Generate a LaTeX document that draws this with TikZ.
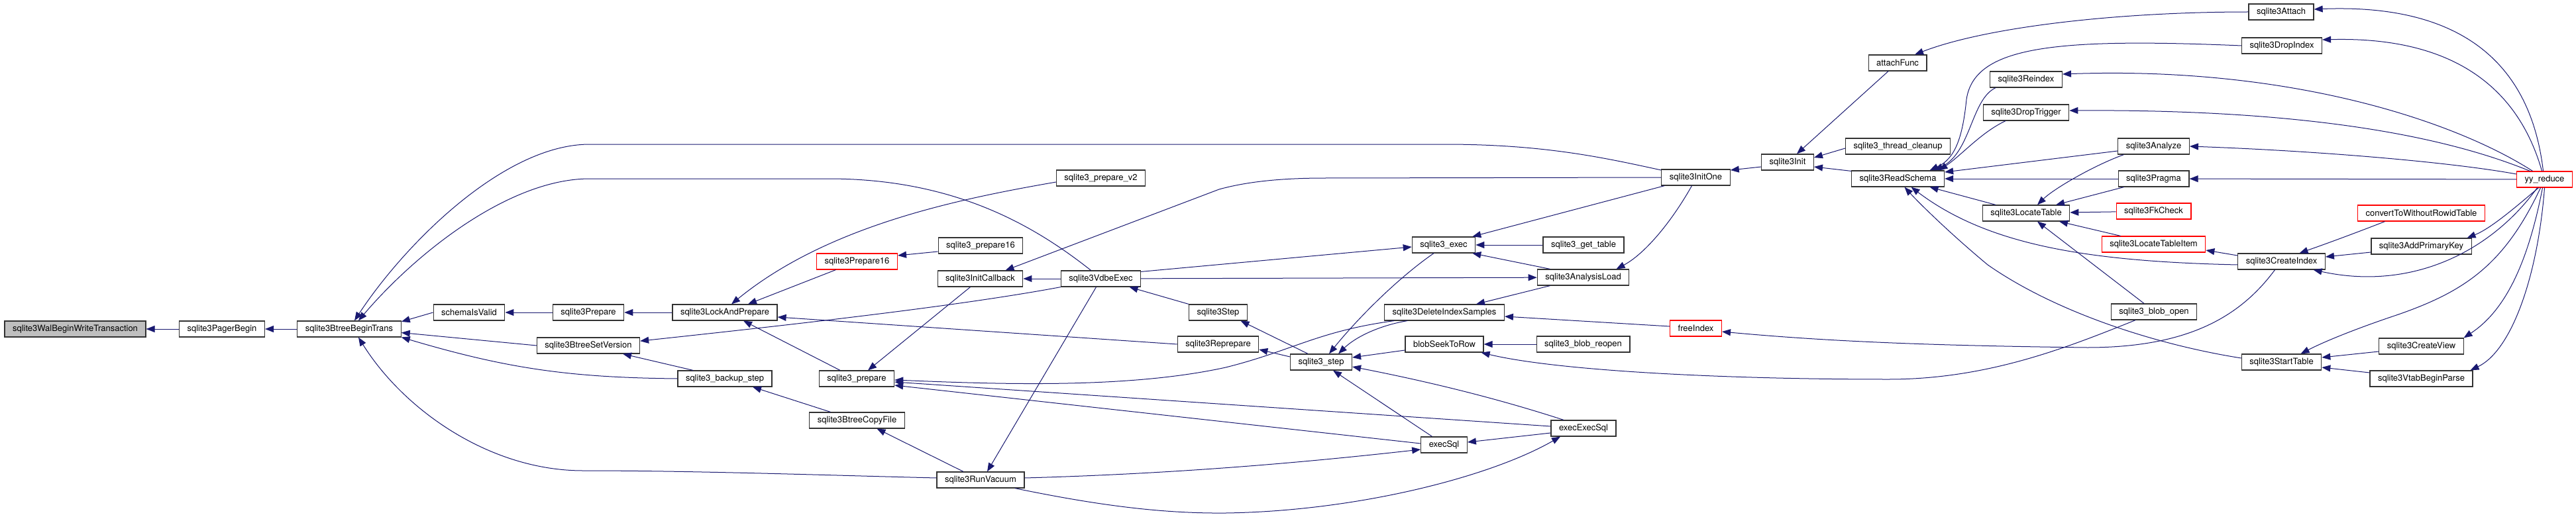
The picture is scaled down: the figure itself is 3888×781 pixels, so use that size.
\documentclass[tikz,border=0pt]{standalone}
\usepackage{fontspec}
\setmainfont{TeX Gyre Heros}
\usepackage{xcolor}
\usepackage{tikz}
\usetikzlibrary{arrows.meta}
\definecolor{edgeblue}{RGB}{25,25,112}
\definecolor{focusgray}{RGB}{191,191,191}
\definecolor{boxline}{RGB}{50,50,50}
\definecolor{truncred}{RGB}{255,0,0}
\newcommand{\fnfont}{\fontsize{13pt}{15pt}\selectfont}

\begin{document}
\begin{tikzpicture}[
    x=1pt, y=1pt,
    >={Triangle[length=13pt,width=10pt]},
    fn/.style={draw=boxline, fill=white, line width=1.2pt, font=\fnfont,
               inner xsep=12pt, inner ysep=0pt, minimum height=24pt},
    fn trunc/.style={fn, draw=truncred},
    call/.style={->, draw=edgeblue, line width=1pt},
]
    \useasboundingbox (0,0) rectangle (3888,-781);

    % Focus function and its direct chain
    \node[fn, fill=focusgray] (walbegin) at (113.5,-497) {sqlite3WalBeginWriteTransaction};
    \node[fn] (pagerbegin) at (335,-497) {sqlite3PagerBegin};
    \node[fn] (btreebegin) at (527,-497) {sqlite3BtreeBeginTrans};

    % Prepare side
    \node[fn] (schemavalid) at (708,-472) {schemaIsValid};
    \node[fn] (prepareint) at (888,-472) {sqlite3Prepare};
    \node[fn] (lockprep) at (1094,-472) {sqlite3LockAndPrepare};
    \node[fn] (setversion) at (888,-522) {sqlite3BtreeSetVersion};
    \node[fn] (backupstep) at (1094,-572) {sqlite3\_backup\_step};
    \node[fn trunc] (prepareutf) at (1293.5,-395) {sqlite3Prepare16};
    \node[fn] (prepareapi16) at (1480,-371) {sqlite3\_prepare16};
    \node[fn] (preparevtwo) at (1661.5,-269) {sqlite3\_prepare\_v2};
    \node[fn] (initcallback) at (1479.5,-421) {sqlite3InitCallback};
    \node[fn] (vdbeexec) at (1661.5,-421) {sqlite3VdbeExec};
    \node[fn] (prepareapi) at (1293,-572) {sqlite3\_prepare};
    \node[fn] (copyfile) at (1293.5,-635) {sqlite3BtreeCopyFile};
    \node[fn] (runvacuum) at (1480,-725) {sqlite3RunVacuum};

    % Step / exec
    \node[fn] (stepint) at (1838.5,-472) {sqlite3Step};
    \node[fn] (reprepare) at (1838.5,-520) {sqlite3Reprepare};
    \node[fn] (exec) at (2179,-370) {sqlite3\_exec};
    \node[fn] (gettable) at (2390,-370) {sqlite3\_get\_table};
    \node[fn] (analysisload) at (2389.5,-419) {sqlite3AnalysisLoad};
    \node[fn] (deleteidx) at (2180,-472) {sqlite3DeleteIndexSamples};
    \node[fn] (blobseek) at (2180,-520) {blobSeekToRow};
    \node[fn] (blobreopen) at (2389.5,-520) {sqlite3\_blob\_reopen};
    \node[fn] (stepapi) at (1994,-547) {sqlite3\_step};
    \node[fn] (execexecsql) at (2390,-647) {execExecSql};
    \node[fn] (execsql) at (2179.5,-672) {execSql};

    % Init / schema
    \node[fn] (initone) at (2559.5,-268) {sqlite3InitOne};
    \node[fn] (init) at (2698,-245) {sqlite3Init};
    \node[fn] (attachfunc) at (2864,-95) {attachFunc};
    \node[fn] (threadcleanup) at (2864.5,-221) {sqlite3\_thread\_cleanup};
    \node[fn] (readschema) at (2864.5,-270) {sqlite3ReadSchema};
    \node[fn trunc] (freeindex) at (2559.5,-496) {freeIndex};
    \node[fn] (reindex) at (3058,-120) {sqlite3Reindex};
    \node[fn] (droptrigger) at (3058,-170) {sqlite3DropTrigger};
    \node[fn] (locatetable) at (3058,-322) {sqlite3LocateTable};

    % Parser actions
    \node[fn] (attach) at (3443,-18) {sqlite3Attach};
    \node[fn] (dropindex) at (3444,-69) {sqlite3DropIndex};
    \node[fn] (analyze) at (3250.5,-221) {sqlite3Analyze};
    \node[fn] (pragma) at (3250.5,-270) {sqlite3Pragma};
    \node[fn trunc] (fkcheck) at (3250.5,-319) {sqlite3FkCheck};
    \node[fn trunc] (locateitem) at (3250.5,-369) {sqlite3LocateTableItem};
    \node[fn] (blobopen) at (3251,-471) {sqlite3\_blob\_open};
    \node[fn] (createindex) at (3443.5,-395) {sqlite3CreateIndex};
    \node[fn] (starttable) at (3443.5,-547) {sqlite3StartTable};
    \node[fn trunc] (convert) at (3654.5,-322) {convertToWithoutRowidTable};
    \node[fn] (addpk) at (3654.5,-372) {sqlite3AddPrimaryKey};
    \node[fn] (createview) at (3654.5,-523) {sqlite3CreateView};
    \node[fn] (vtabbegin) at (3654.5,-572) {sqlite3VtabBeginParse};
    \node[fn trunc] (yyreduce) at (3840.5,-271) {yy\_reduce};

    % Calls into the btree / pager chain
    \draw[call] (pagerbegin) -- (walbegin);
    \draw[call] (btreebegin) -- (pagerbegin);
    \draw[call] (schemavalid.west) -- (btreebegin.8);
    \draw[call] (setversion.west) -- (btreebegin.-4);
    \draw[call] (backupstep.west) to[bend left=8] (btreebegin.-9);
    \draw[call] ([yshift=11pt]initone.west) .. controls (2420,-238) and (2330,-218) .. (2180,-218)
        -- (890,-218) .. controls (760,-218) and (610,-370) .. ([xshift=8pt]btreebegin.north);
    \draw[call] ([xshift=-15pt]vdbeexec.north) .. controls (1560,-340) and (1440,-270) .. (1250,-270)
        -- (890,-270) .. controls (770,-270) and (630,-380) .. ([xshift=14pt]btreebegin.north);
    \draw[call] ([yshift=3pt]runvacuum.west) .. controls (1250,-718) and (1050,-711) .. (880,-711)
        .. controls (740,-711) and (610,-620) .. ([xshift=14pt]btreebegin.south);

    % Prepare calls
    \draw[call] (prepareint) -- (schemavalid);
    \draw[call] (lockprep) -- (prepareint);
    \draw[call] ([yshift=-6pt]preparevtwo.west) .. controls (1450,-300) and (1250,-340) .. ([xshift=10pt]lockprep.north);
    \draw[call] ([xshift=-32pt]prepareutf.south) -- ([xshift=35pt]lockprep.north);
    \draw[call] (reprepare.west) -- (lockprep.-5);
    \draw[call] ([xshift=-25pt]prepareapi.north) -- ([xshift=28pt]lockprep.south);
    \draw[call] (vdbeexec.south west) .. controls (1450,-462) and (1200,-490) .. (setversion.5);
    \draw[call] ([xshift=-48pt]backupstep.north) -- ([xshift=52pt]setversion.south);
    \draw[call] ([xshift=-40pt]copyfile.north) -- ([xshift=42pt]backupstep.south);
    \draw[call] ([yshift=-9pt]prepareapi16.west) -- ([yshift=9pt]prepareutf.east);
    \draw[call] (vdbeexec) -- (initcallback);
    \draw[call] (initone.west) -- (2000,-269) .. controls (1930,-269) and (1880,-275) .. (1840,-286)
        -- ([xshift=38pt]initcallback.north);
    \draw[call] ([xshift=-15pt]initcallback.south) -- ([xshift=17pt]prepareapi.north);
    \draw[call] (stepint.north west) -- ([xshift=43pt]vdbeexec.south);
    \draw[call] ([xshift=-7pt]vdbeexec.south) -- ([xshift=10pt]runvacuum.north);
    \draw[call] (vdbeexec) -- (analysisload);
    \draw[call] ([yshift=-2pt]vdbeexec.north east) -- ([yshift=-3pt]exec.west);
    \draw[call] ([xshift=15pt]deleteidx.south west) .. controls (1990,-500) and (1950,-530) .. (1850,-555)
        .. controls (1700,-588) and (1500,-580) .. ([yshift=-2pt]prepareapi.east);
    \draw[call] ([yshift=3pt]execexecsql.west) -- ([yshift=-5pt]prepareapi.east);
    \draw[call] ([yshift=2pt]execsql.west) -- ([yshift=-10pt]prepareapi.east);
    \draw[call] ([xshift=-26pt]runvacuum.north) -- ([xshift=30pt]copyfile.south);
    \draw[call] ([yshift=3pt]runvacuum.east) .. controls (1800,-715) and (2000,-695) .. ([yshift=-7pt]execsql.west);
    \draw[call] ([xshift=52pt]runvacuum.south) .. controls (1650,-762) and (1750,-776) .. (1850,-775)
        .. controls (2050,-772) and (2250,-720) .. ([xshift=-35pt]execexecsql.south);

    % Step / exec calls
    \draw[call] ([xshift=-20pt]stepapi.north) -- ([xshift=34pt]stepint.south);
    \draw[call] ([yshift=8pt]stepapi.west) -- ([yshift=-8pt]reprepare.east);
    \draw[call] ([xshift=-15pt]exec.south) .. controls (2110,-420) and (2050,-480) .. ([xshift=12pt]stepapi.north);
    \draw[call] ([xshift=-56pt]deleteidx.south) .. controls (2080,-492) and (2045,-510) .. ([xshift=26pt]stepapi.north);
    \draw[call] ([yshift=-9pt]blobseek.west) -- ([yshift=7pt]stepapi.east);
    \draw[call] ([xshift=-30pt]execexecsql.north) .. controls (2300,-615) and (2200,-585) .. ([yshift=-7pt]stepapi.east);
    \draw[call] ([xshift=-18pt]execsql.north) -- ([xshift=18pt]stepapi.south);
    \draw[call] ([yshift=-7pt]execexecsql.west) -- ([yshift=4pt]execsql.east);
    \draw[call] ([xshift=5pt]initone.south west) -- ([xshift=-5pt]exec.north east);
    \draw[call] (gettable) -- (exec);
    \draw[call] ([xshift=-50pt]analysisload.north) -- ([xshift=-5pt]exec.south east);
    \draw[call] ([xshift=-6pt]initone.south) .. controls (2520,-340) and (2480,-385) .. ([xshift=50pt]analysisload.north);
    \draw[call] ([xshift=-50pt]analysisload.south) -- ([xshift=48pt]deleteidx.north);
    \draw[call] ([yshift=3pt]freeindex.west) -- ([yshift=-6pt]deleteidx.east);
    \draw[call] (blobreopen) -- (blobseek);
    \draw[call] ([xshift=-28pt]blobopen.south) .. controls (3120,-525) and (3000,-573) .. (2850,-573)
        .. controls (2600,-573) and (2350,-560) .. ([xshift=-4pt]blobseek.south east);

    % Init / schema calls
    \draw[call] ([yshift=-7pt]init.west) -- ([yshift=11pt]initone.east);
    \draw[call] ([xshift=-14pt]attachfunc.south) -- ([xshift=14pt]init.north);
    \draw[call] ([yshift=-3pt]threadcleanup.west) -- ([yshift=7pt]init.east);
    \draw[call] ([yshift=-1pt]readschema.north west) -- ([yshift=-7pt]init.east);
    \draw[call] (attach.west) .. controls (3200,-18) and (3000,-40) .. ([xshift=26pt]attachfunc.north);
    \draw[call] (dropindex.west) .. controls (3100,-57) and (2980,-70) .. (2968,-150)
        .. controls (2962,-210) and (2950,-240) .. ([xshift=48pt]readschema.north);
    \draw[call] ([xshift=-46pt]reindex.south) .. controls (2975,-150) and (2975,-230) .. ([xshift=55pt]readschema.north);
    \draw[call] ([xshift=-31pt]droptrigger.south) .. controls (2990,-200) and (2960,-235) .. ([xshift=62pt]readschema.north);
    \draw[call] ([yshift=-7pt]analyze.west) -- ([yshift=10pt]readschema.east);
    \draw[call] (pragma) -- (readschema);
    \draw[call] ([xshift=-46pt]locatetable.north) -- ([xshift=48pt]readschema.south);
    \draw[call] ([yshift=-5pt]createindex.west) .. controls (3150,-395) and (3000,-370) .. ([xshift=20pt]readschema.south);
    \draw[call] ([yshift=6pt]starttable.west) .. controls (3250,-520) and (3100,-470) .. (3000,-400)
        .. controls (2940,-350) and (2895,-305) .. ([xshift=10pt]readschema.south);
    \draw[call] ([xshift=-45pt]analyze.south) .. controls (3160,-250) and (3100,-285) .. ([xshift=17pt]locatetable.north);
    \draw[call] ([xshift=-45pt]pragma.south) -- ([xshift=45pt]locatetable.north);
    \draw[call] (fkcheck) -- (locatetable);
    \draw[call] ([xshift=-50pt]locateitem.north) -- ([xshift=50pt]locatetable.south);
    \draw[call] ([xshift=-15pt]blobopen.north) -- ([xshift=17pt]locatetable.south);

    % Index / table creation
    \draw[call] ([yshift=9pt]createindex.west) -- ([yshift=-9pt]locateitem.east);
    \draw[call] ([xshift=-55pt]convert.south) .. controls (3560,-350) and (3520,-365) .. ([xshift=27pt]createindex.north);
    \draw[call] ([yshift=-9pt]addpk.west) -- ([yshift=7pt]createindex.east);
    \draw[call] ([xshift=-10pt]createindex.south) .. controls (3380,-480) and (3300,-525) .. (3150,-525)
        .. controls (2900,-522) and (2750,-515) .. ([yshift=-5pt]freeindex.east);
    \draw[call] ([yshift=-8pt]createview.west) -- ([yshift=7pt]starttable.east);
    \draw[call] ([yshift=9pt]vtabbegin.west) -- ([yshift=-8pt]starttable.east);

    % yy_reduce callers
    \draw[call] ([xshift=-2pt]yyreduce.north) .. controls (3820,-100) and (3720,-5) .. ([yshift=4pt]attach.east);
    \draw[call] ([xshift=-4pt]yyreduce.north) .. controls (3800,-130) and (3700,-55) .. ([yshift=9pt]dropindex.east);
    \draw[call] ([xshift=-18pt]yyreduce.north) .. controls (3700,-180) and (3450,-100) .. ([yshift=8pt]reindex.east);
    \draw[call] ([xshift=-22pt]yyreduce.north) .. controls (3700,-210) and (3500,-165) .. ([yshift=3pt]droptrigger.east);
    \draw[call] ([yshift=8pt]yyreduce.west) .. controls (3700,-245) and (3500,-228) .. (analyze.east);
    \draw[call] (yyreduce) -- (pragma);
    \draw[call] ([xshift=-11pt]yyreduce.south) .. controls (3760,-380) and (3640,-440) .. ([xshift=48pt]createindex.south);
    \draw[call] ([xshift=-9pt]yyreduce.south) .. controls (3800,-310) and (3760,-345) .. ([xshift=69pt]addpk.north);
    \draw[call] ([xshift=-6pt]yyreduce.south) .. controls (3780,-400) and (3720,-440) .. (3620,-475)
        .. controls (3560,-495) and (3510,-515) .. ([xshift=29pt]starttable.north);
    \draw[call] ([xshift=-3pt]yyreduce.south) .. controls (3815,-400) and (3780,-470) .. ([xshift=64pt]createview.north);
    \draw[call] (yyreduce.south) .. controls (3830,-420) and (3790,-530) .. ([xshift=74pt]vtabbegin.north);
\end{tikzpicture}
\end{document}
